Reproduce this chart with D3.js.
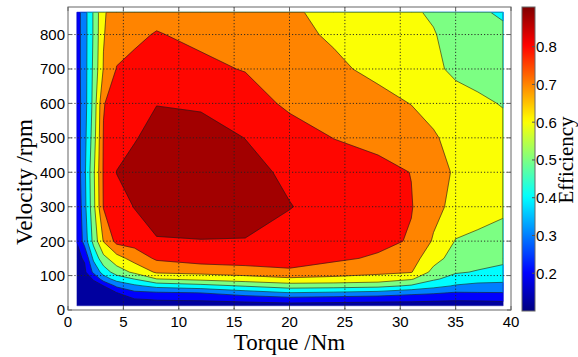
<!DOCTYPE html>
<html>
<head>
<meta charset="utf-8">
<script src="https://cdn.jsdelivr.net/npm/d3@7"></script>
<style>
  body { margin: 0; background: #fff; }
  svg text { font-family: "Liberation Sans", Arial, sans-serif; fill: #000; }
  svg text.lbl { font-family: "Liberation Serif", "Times New Roman", serif; }
</style>
</head>
<body>
<div id="chart"></div>
<script>
// grid the efficiency map was measured on
const torque = [0.8, 1.5, 2.3, 3.2, 4.4, 6, 8, 12, 16, 20, 24, 28, 31, 33, 35, 37, 39.3];
const speed = [12, 30, 50, 70, 90, 110, 150, 200, 300, 400, 500, 600, 700, 800, 865];

// efficiency, one row per speed (low to high), one column per torque
const eff = [
  [0.10, 0.10, 0.10, 0.10, 0.105, 0.11, 0.11, 0.11, 0.11, 0.11, 0.11, 0.11, 0.11, 0.11, 0.11, 0.11, 0.11],
  [0.10, 0.10, 0.10, 0.11, 0.12, 0.14, 0.154, 0.159, 0.174, 0.196, 0.186, 0.175, 0.171, 0.164, 0.158, 0.16, 0.167],
  [0.10, 0.105, 0.11, 0.12, 0.148, 0.227, 0.238, 0.252, 0.304, 0.348, 0.335, 0.317, 0.28, 0.264, 0.242, 0.246, 0.248],
  [0.105, 0.11, 0.13, 0.148, 0.27, 0.33, 0.383, 0.414, 0.458, 0.50, 0.493, 0.479, 0.436, 0.385, 0.34, 0.323, 0.321],
  [0.11, 0.12, 0.155, 0.30, 0.39, 0.452, 0.548, 0.577, 0.606, 0.631, 0.625, 0.609, 0.56, 0.464, 0.414, 0.387, 0.377],
  [0.115, 0.13, 0.27, 0.39, 0.50, 0.57, 0.664, 0.678, 0.696, 0.73, 0.692, 0.67, 0.655, 0.52, 0.459, 0.444, 0.423],
  [0.13, 0.16, 0.37, 0.52, 0.61, 0.69, 0.765, 0.80, 0.81, 0.80, 0.77, 0.735, 0.69, 0.59, 0.505, 0.483, 0.472],
  [0.152, 0.29, 0.48, 0.655, 0.78, 0.79, 0.846, 0.848, 0.847, 0.82, 0.80, 0.78, 0.74, 0.64, 0.545, 0.53, 0.51],
  [0.16, 0.32, 0.52, 0.755, 0.80, 0.854, 0.875, 0.885, 0.88, 0.853, 0.82, 0.79, 0.755, 0.68, 0.62, 0.59, 0.57],
  [0.18, 0.33, 0.53, 0.76, 0.853, 0.875, 0.89, 0.895, 0.875, 0.835, 0.81, 0.78, 0.748, 0.70, 0.635, 0.61, 0.60],
  [0.19, 0.32, 0.50, 0.755, 0.80, 0.845, 0.875, 0.88, 0.849, 0.80, 0.748, 0.72, 0.69, 0.66, 0.62, 0.60, 0.58],
  [0.195, 0.31, 0.48, 0.745, 0.79, 0.83, 0.848, 0.84, 0.80, 0.73, 0.70, 0.675, 0.648, 0.62, 0.59, 0.565, 0.545],
  [0.20, 0.31, 0.47, 0.655, 0.755, 0.77, 0.785, 0.77, 0.745, 0.70, 0.665, 0.63, 0.60, 0.57, 0.53, 0.52, 0.51],
  [0.20, 0.31, 0.46, 0.645, 0.70, 0.735, 0.755, 0.73, 0.70, 0.67, 0.64, 0.605, 0.575, 0.555, 0.52, 0.50, 0.48],
  [0.20, 0.31, 0.46, 0.64, 0.69, 0.715, 0.725, 0.71, 0.685, 0.66, 0.63, 0.59, 0.56, 0.54, 0.51, 0.47, 0.43]
];

const levels = [0.15, 0.25, 0.35, 0.45, 0.55, 0.65, 0.75, 0.85];
const effRange = [0.1, 0.905];
const xTicks = [0, 5, 10, 15, 20, 25, 30, 35, 40];
const yTicks = [0, 100, 200, 300, 400, 500, 600, 700, 800];
const cbTicks = [0.2, 0.3, 0.4, 0.5, 0.6, 0.7, 0.8];

const W = 578, H = 357;
const box = { l: 68, r: 511, t: 7, b: 310 };
const cb = { l: 522, r: 535 };

const x = d3.scaleLinear().domain([0, 40]).range([box.l, box.r]);
const y = d3.scaleLinear().domain([0, 880]).range([box.b, box.t]);
const cy = d3.scaleLinear().domain(effRange).range([box.b + 1, box.t]);
const cnorm = d3.scaleLinear().domain(effRange).range([0, 1]);

// matlab jet
function jet(t) {
  t = Math.max(0, Math.min(1, t));
  const c = v => Math.round(255 * Math.max(0, Math.min(1, v)));
  return d3.rgb(c(Math.min(4 * t - 1.5, -4 * t + 4.5)),
                c(Math.min(4 * t - 0.5, -4 * t + 3.5)),
                c(Math.min(4 * t + 0.5, -4 * t + 2.5))).formatHex();
}

const svg = d3.select('#chart').append('svg')
  .attr('width', W).attr('height', H);

// contours on the index grid, then mapped back onto torque / speed
const nx = torque.length, ny = speed.length;
const values = eff.flat();
const ix = d3.scaleLinear().domain(d3.range(nx).map(i => i + 0.5)).range(torque).clamp(true);
const iy = d3.scaleLinear().domain(d3.range(ny).map(i => i + 0.5)).range(speed).clamp(true);
const proj = d3.geoTransform({
  point: function(px, py) { this.stream.point(x(ix(px)), y(iy(py))); }
});
const path = d3.geoPath(proj);

const fillLevels = [d3.min(values)].concat(levels);
const bands = d3.contours().size([nx, ny]).thresholds(fillLevels)(values);

function bandColor(i) {
  const lo = fillLevels[i], hi = i + 1 < fillLevels.length ? fillLevels[i + 1] : effRange[1];
  return jet(cnorm(i === 0 ? (effRange[0] + hi) / 2 : (lo + hi) / 2));
}

svg.append('defs').append('clipPath').attr('id', 'inner')
  .append('rect')
  .attr('x', x(torque[0]) + 0.6).attr('y', y(speed[ny - 1]) + 0.6)
  .attr('width', x(torque[nx - 1]) - x(torque[0]) - 1.2)
  .attr('height', y(speed[0]) - y(speed[ny - 1]) - 1.2);

svg.append('g').selectAll('path')
  .data(bands)
  .join('path')
  .attr('d', path)
  .attr('fill', (d, i) => bandColor(i))
  .attr('stroke', (d, i) => bandColor(i))
  .attr('stroke-width', 0.3);

svg.append('g').attr('clip-path', 'url(#inner)')
  .selectAll('path')
  .data(bands.slice(1))
  .join('path')
  .attr('d', path)
  .attr('fill', 'none')
  .attr('stroke', '#1a1a1a')
  .attr('stroke-width', 0.6);

// dotted grid
const grid = svg.append('g')
  .attr('stroke', '#222').attr('stroke-width', 0.9)
  .attr('stroke-dasharray', '1.2,2');
grid.selectAll('.gx').data(xTicks.slice(1, -1)).join('line')
  .attr('x1', d => x(d)).attr('x2', d => x(d))
  .attr('y1', box.t).attr('y2', box.b);
grid.selectAll('.gy').data(yTicks.slice(1)).join('line')
  .attr('x1', box.l).attr('x2', box.r)
  .attr('y1', d => y(d)).attr('y2', d => y(d));

// axes with inward ticks
const tk = 4;
const axG = svg.append('g').attr('stroke', '#666').attr('stroke-width', 1);
axG.append('rect')
  .attr('x', box.l).attr('y', box.t)
  .attr('width', box.r - box.l).attr('height', box.b - box.t)
  .attr('fill', 'none');
xTicks.forEach(d => {
  axG.append('line').attr('x1', x(d)).attr('x2', x(d)).attr('y1', box.b).attr('y2', box.b - tk);
  axG.append('line').attr('x1', x(d)).attr('x2', x(d)).attr('y1', box.t).attr('y2', box.t + tk);
});
yTicks.forEach(d => {
  axG.append('line').attr('x1', box.l).attr('x2', box.l + tk).attr('y1', y(d)).attr('y2', y(d));
  axG.append('line').attr('x1', box.r).attr('x2', box.r - tk).attr('y1', y(d)).attr('y2', y(d));
});

svg.append('g').selectAll('text').data(xTicks).join('text')
  .attr('x', d => x(d)).attr('y', 327)
  .attr('text-anchor', 'middle').style('font-size', '15px')
  .text(d => d);
svg.append('g').selectAll('text').data(yTicks).join('text')
  .attr('x', box.l - 3).attr('y', d => y(d)).attr('dy', '0.36em')
  .attr('text-anchor', 'end').style('font-size', '15px')
  .text(d => d);

svg.append('text').attr('class', 'lbl')
  .attr('x', (box.l + box.r) / 2).attr('y', 350)
  .attr('text-anchor', 'middle').style('font-size', '23px')
  .text('Torque /Nm');
svg.append('text').attr('class', 'lbl')
  .attr('transform', 'translate(32,182) rotate(-90)')
  .attr('text-anchor', 'middle').style('font-size', '23px')
  .text('Velocity /rpm');

// colorbar
const grad = svg.select('defs').append('linearGradient')
  .attr('id', 'jet').attr('x1', 0).attr('y1', 1).attr('x2', 0).attr('y2', 0);
grad.selectAll('stop').data(d3.range(0, 1.0001, 1 / 63)).join('stop')
  .attr('offset', d => d).attr('stop-color', d => jet(d));
svg.append('rect')
  .attr('x', cb.l).attr('y', cy(effRange[1]))
  .attr('width', cb.r - cb.l).attr('height', cy(effRange[0]) - cy(effRange[1]))
  .attr('fill', 'url(#jet)').attr('stroke', '#666').attr('stroke-width', 1);
svg.append('g').attr('stroke', '#555').attr('stroke-width', 1)
  .selectAll('line').data(cbTicks).join('line')
  .attr('x1', cb.r - 3).attr('x2', cb.r)
  .attr('y1', d => cy(d)).attr('y2', d => cy(d));
svg.append('g').selectAll('text').data(cbTicks).join('text')
  .attr('x', cb.r + 1).attr('y', d => cy(d)).attr('dy', '0.36em')
  .style('font-size', '15px')
  .text(d => d.toFixed(1));
svg.append('text').attr('class', 'lbl')
  .attr('transform', 'translate(573,160) rotate(-90)')
  .attr('text-anchor', 'middle').style('font-size', '21px')
  .text('Efficiency');
</script>
</body>
</html>
